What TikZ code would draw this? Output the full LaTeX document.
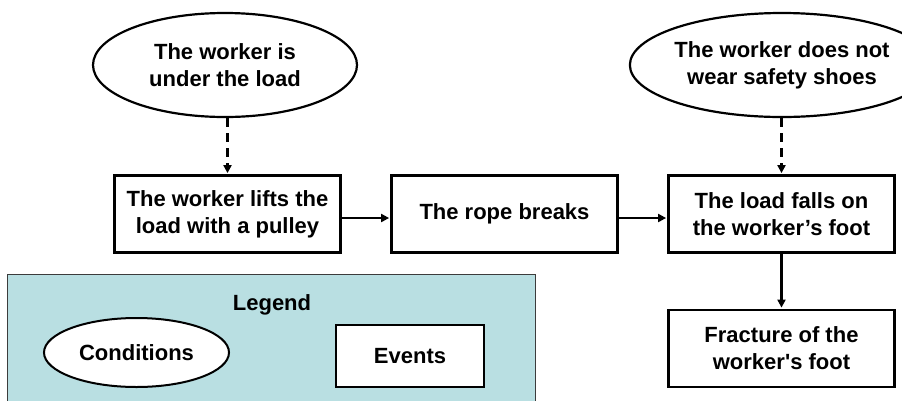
\documentclass[tikz,border=0pt]{standalone}
\usepackage{fontspec}
\setmainfont{Liberation Sans}[Ligatures=TeXOff]
\usetikzlibrary{shapes.geometric,arrows.meta}
\definecolor{legendfill}{RGB}{185,223,226}
\definecolor{legendline}{RGB}{60,60,60}
\tikzset{
  evt/.style={draw, rectangle, line width=2.8pt, fill=white, align=center, inner sep=0pt,
              minimum width=226pt, minimum height=77pt},
  cond/.style={draw, ellipse, line width=2.2pt, fill=white, align=center, inner sep=0pt},
  arr/.style={line width=2.6pt, -{Triangle[length=8pt,width=8pt]}, shorten >=1pt},
  darr/.style={line width=2.6pt, dash pattern=on 9pt off 6pt, -{Triangle[length=8pt,width=8pt]}, shorten >=1pt},
  legbox/.style={draw=legendline, line width=1pt, fill=legendfill, rectangle, inner sep=0pt}
}
\begin{document}
\begin{tikzpicture}[x=1pt, y=-1pt, font=\bfseries\fontsize{22}{27}\selectfont]
\useasboundingbox (0,0) rectangle (902,400);
\clip (0,0) rectangle (902,400);
% legend
\node[legbox, minimum width=528pt, minimum height=180pt] (leg) at (271,364) {};
\node (legt) at (272,305) {Legend};
\node[cond, line width=2pt, minimum width=185pt, minimum height=69pt] (lc) at (136.5,352.5) {Conditions};
\node[evt, line width=2.6pt, minimum width=148pt, minimum height=62pt] (le) at (410,356) {Events};
% conditions
\node[cond, minimum width=264pt, minimum height=104pt] (e1) at (225,65) {The worker is\\under the load};
\node[cond, minimum width=268pt, minimum height=104pt] (e2) at (782,65) {The worker does not\\wear safety shoes};
% events
\node[evt] (b1) at (227.5,214) {The worker lifts the\\load with a pulley};
\node[evt] (b2) at (504.5,214) {The rope breaks};
\node[evt] (b3) at (781.5,214) {The load falls on\\the worker’s foot};
\node[evt] (b4) at (781.5,348.5) {Fracture of the\\worker's foot};
% connectors
\draw[darr] (b1.north |- e1.south) -- (b1.north);
\draw[darr] (b3.north |- e2.south) -- (b3.north);
\draw[arr] ([yshift=-4pt]b1.east) -- ([yshift=-4pt]b2.west);
\draw[arr] ([yshift=-4pt]b2.east) -- ([yshift=-4pt]b3.west);
\draw[arr] (b3.south) -- (b4.north);
\end{tikzpicture}
\end{document}
